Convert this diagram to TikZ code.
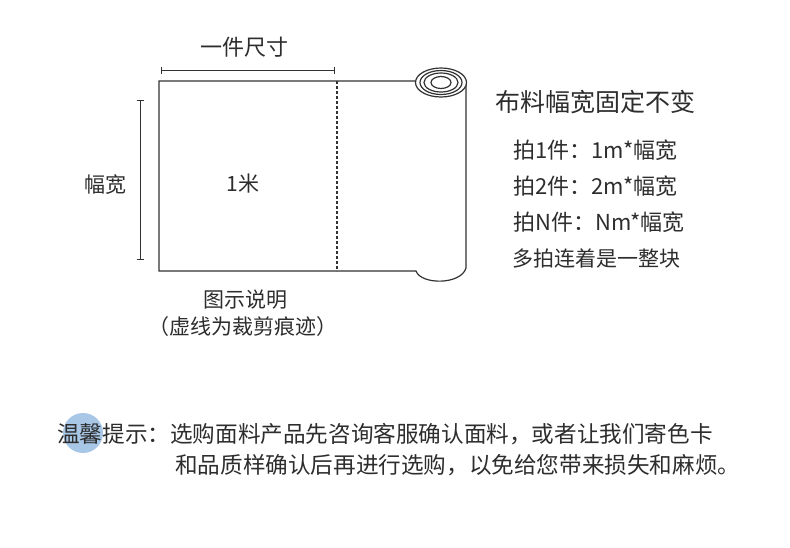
\documentclass[tikz,border=0pt]{standalone}
\usepackage{fontspec}
\setmainfont{Noto Sans CJK SC}
\usepackage{xcolor}
\usetikzlibrary{arrows.meta,positioning}
\definecolor{inkgray}{RGB}{45,45,45}
\definecolor{linegray}{RGB}{50,50,50}
\definecolor{tipblue}{RGB}{168,199,230}

\begin{document}
\begin{tikzpicture}[x=1pt, y=-1pt,
    txt/.style={text=inkgray, inner sep=0pt, font=\fontsize{21}{25}\selectfont},
    bigtxt/.style={text=inkgray, inner sep=0pt, font=\fontsize{25}{29}\selectfont},
    notetxt/.style={text=inkgray, inner sep=0pt, anchor=west, font=\fontsize{22.6}{27}\selectfont},
    dimline/.style={draw=linegray, line width=1pt, {Bar[width=7pt]}-{Bar[width=7pt]}},
    sheet/.style={draw=linegray, line width=1.2pt}]
    \useasboundingbox (0,0) rectangle (790,547);

    % Fabric sheet
    \draw[sheet, fill=white] (416,81) -- (159,81) -- (159,271) -- (416,271)
        .. controls (421,285) and (461,285) .. (466,268) -- (466,82);
    \draw[sheet, dashed, dash pattern=on 3pt off 2pt] (337,81) -- (337,271);

    % Roll top
    \foreach \rx/\ry in {25.5/14.5, 21/12, 17/9.5, 10/6}
        \draw[sheet, fill=white] (441,82.5) ellipse [x radius=\rx pt, y radius=\ry pt];

    % Size marks
    \coordinate (topL) at (161,70);
    \coordinate (topR) at (335,70);
    \coordinate (leftT) at (140,100);
    \coordinate (leftB) at (140,260);
    \draw[dimline] (topL) -- (topR);
    \draw[dimline] (leftT) -- (leftB);
    \node[txt, font=\fontsize{22}{26}\selectfont] (piece) at (244,47) {一件尺寸};
    \node[txt] (width) at (105,185) {幅宽};
    \node[txt] (meter) at (243,184) {1米};

    % Caption
    \node[txt] (cap) at (245,300) {图示说明};
    \node[txt] (capnote) at (243,327) {（虚线为裁剪痕迹）};

    % Right notes
    \node[bigtxt, anchor=west] (title) at (495,102) {布料幅宽固定不变};
    \node[txt, anchor=west, font=\fontsize{22}{26}\selectfont] (one) at (513,150) {拍1件：1m*幅宽};
    \node[txt, anchor=west, font=\fontsize{22}{26}\selectfont] (two) at (513,186) {拍2件：2m*幅宽};
    \node[txt, anchor=west, font=\fontsize{22}{26}\selectfont] (many) at (513,222) {拍N件：Nm*幅宽};
    \node[txt, anchor=west] (whole) at (512,258) {多拍连着是一整块};

    % Tip
    \fill[tipblue] (83,433) circle (20pt);
    \node[notetxt] (tip1) at (57,434) {温馨提示：选购面料产品先咨询客服确认面料，或者让我们寄色卡};
    \node[notetxt] (tip2) at (175,465) {和品质样确认后再进行选购，以免给您带来损失和麻烦。};
\end{tikzpicture}
\end{document}
